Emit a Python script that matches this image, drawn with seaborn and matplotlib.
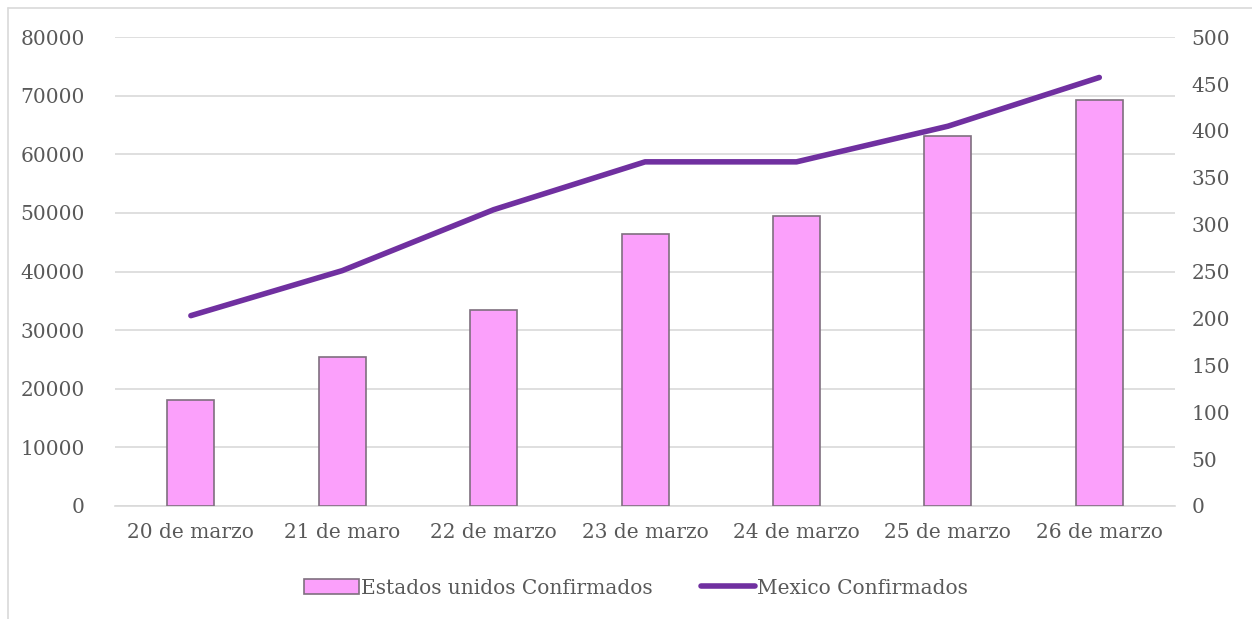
import matplotlib
matplotlib.use("Agg")
import matplotlib.pyplot as plt
import seaborn as sns
import pandas as pd
from matplotlib.patches import Patch
from matplotlib.lines import Line2D

categories = ["20 de marzo", "21 de maro", "22 de marzo", "23 de marzo",
              "24 de marzo", "25 de marzo", "26 de marzo"]
us_confirmed = [18000, 25500, 33500, 46400, 49500, 63100, 69300]
mx_confirmed = [203, 251, 316, 367, 367, 405, 457]
left_ticks = [0, 10000, 20000, 30000, 40000, 50000, 60000, 70000, 80000]
right_ticks = [0, 50, 100, 150, 200, 250, 300, 350, 400, 450, 500]

sns.set_theme(style="white")
plt.rcParams['font.family'] = ['DejaVu Serif']

df = pd.DataFrame({"cat": categories, "us": us_confirmed, "mx": mx_confirmed})

fig = plt.figure(figsize=(12.52, 6.19), dpi=100)
ax = fig.add_axes([0.092, 0.1826, 0.8465, 0.7574])
x0 = 8 / 1252
y0 = 1 - 8 / 619
fig.lines.append(Line2D([x0, x0], [0, y0], transform=fig.transFigure,
                        color="#D9D9D9", linewidth=1.2))
fig.lines.append(Line2D([x0, 1], [y0, y0], transform=fig.transFigure,
                        color="#D9D9D9", linewidth=1.2))

bar_color = "#FBA0FB"
edge = "#7F6F7F"
sns.barplot(data=df, x="cat", y="us", ax=ax, color=bar_color, width=0.31,
            edgecolor=edge, linewidth=1.2, saturation=1, zorder=3)
ax.set_ylim(0, 80000)
ax.set_xlim(-0.5, 6.5)
ax.set_yticks(left_ticks)
ax.set_yticklabels([str(t) for t in left_ticks])
ax.grid(axis="y", color="#D9D9D9", linewidth=1.2, zorder=0)
ax.set_axisbelow(True)
for s in ax.spines.values():
    s.set_visible(False)
ax.spines["bottom"].set_visible(True)
ax.spines["bottom"].set_color("#D9D9D9")
ax.spines["bottom"].set_linewidth(1.2)
ax.set_xlabel("")
ax.set_ylabel("")
ax.tick_params(axis="both", length=0, labelsize=14.5, colors="#595959")
ax.tick_params(axis="x", pad=12)
ax.tick_params(axis="y", pad=22)

ax2 = ax.twinx()
sns.lineplot(x=list(range(len(categories))), y=mx_confirmed, ax=ax2,
             color="#7030A0", linewidth=4, solid_capstyle="round", zorder=4)
ax2.set_ylim(0, 500)
ax2.set_yticks(right_ticks)
ax2.set_yticklabels([str(t) for t in right_ticks])
for s in ax2.spines.values():
    s.set_visible(False)
ax2.tick_params(axis="y", length=0, labelsize=14.5, colors="#595959", pad=12)
ax2.set_ylabel("")
ax2.grid(False)

handles = [Patch(facecolor=bar_color, edgecolor=edge, linewidth=1.2),
           Line2D([0], [0], color="#7030A0", linewidth=4, solid_capstyle="round")]
labels = ["Estados unidos Confirmados", "Mexico Confirmados"]
fig.legend(handles, labels, loc="center", bbox_to_anchor=(0.508, 1 - 588/619),
           ncol=2, frameon=False, fontsize=14.5, labelcolor="#595959",
           handlelength=2.7, handletextpad=0.1, columnspacing=2.4)

fig.savefig("out.png", dpi=100)
